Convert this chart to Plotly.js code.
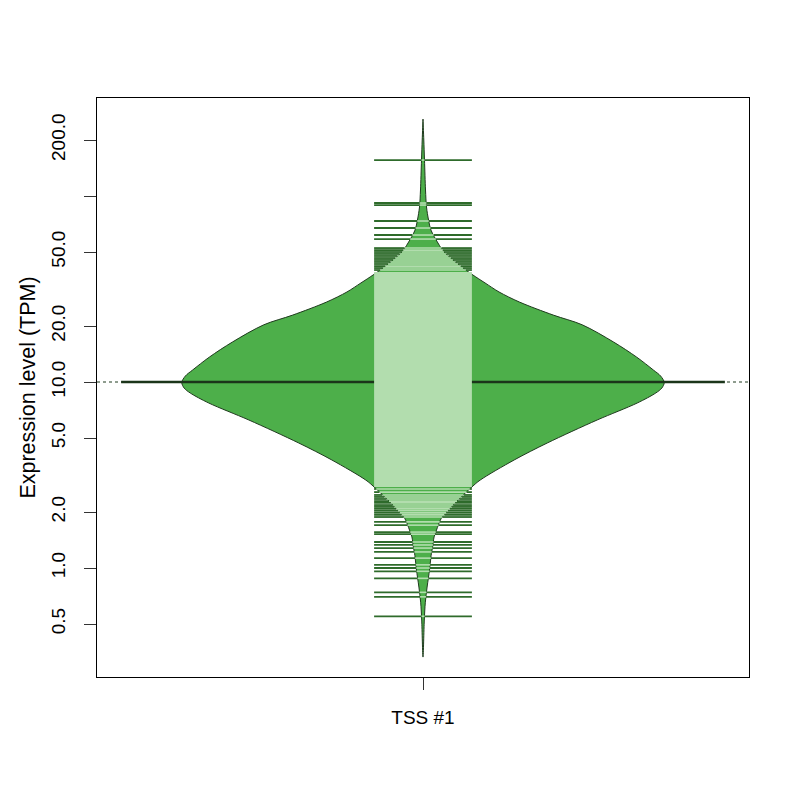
<!DOCTYPE html>
<html>
<head>
<meta charset="utf-8">
<script src="https://cdn.plot.ly/plotly-3.0.1.min.js"></script>
<style>
  body { margin: 0; background: #fff; }
  #chart { width: 800px; height: 800px; }
</style>
</head>
<body>
<div id="chart"></div>
<script>
// one group only
let category = "TSS #1";
let yTickVals = [0.5, 1, 2, 5, 10, 20, 50, 100, 200];
let yTickText = ["0.5", "1.0", "2.0", "5.0", "10.0", "20.0", "50.0", "", "200.0"];

// bean outline: expression level and relative density
let beanLevels = [0.332, 0.525, 0.65, 0.79, 0.975, 1.06, 1.20, 1.30, 1.47, 1.60, 1.81, 1.88,
    2.24, 2.73, 2.97, 3.81, 4.70, 6.25, 7.71, 8.73, 9.28, 9.94, 10.77, 11.6, 13.6, 16.4, 20.3, 22.9,
    26.9, 30.5, 34.1, 37.6, 41.0, 45.3, 50.0, 55.9, 65.6, 74.3, 87.3, 107.7, 156.1, 200, 259.4];
let beanDensity = [0, 0.0054, 0.0095, 0.017, 0.027, 0.030, 0.035, 0.040, 0.046, 0.056, 0.072, 0.080,
    0.133, 0.203, 0.237, 0.378, 0.515, 0.722, 0.888, 0.965, 0.99, 1.0, 0.985, 0.955, 0.886, 0.790, 0.660, 0.540,
    0.400, 0.315, 0.257, 0.207, 0.166, 0.124, 0.087, 0.062, 0.033, 0.023, 0.0145, 0.0104, 0.0062, 0.0033, 0];

// single observations above and below the dense block
let upperValues = [156.1, 91.7, 89.4, 73.4, 67.3, 61.7, 58.7, 52.5, 51.2, 50.0, 48.8, 47.6,
    46.4, 45.3, 44.2, 43.1, 42.0, 41.0, 40.0];
let lowerValues = [2.66, 2.56, 2.47, 2.41, 2.35, 2.29, 2.24, 2.18, 2.13, 2.08, 2.03, 1.98,
    1.93, 1.88, 1.77, 1.70, 1.56, 1.52, 1.38, 1.33, 1.28, 1.22, 1.13, 1.04, 1.00, 0.96,
    0.88, 0.74, 0.70, 0.55];
// observations so dense they merge into one block
let denseRange = [2.73, 39.0];
let medianValue = 10.0;

let beanHalf = 0.37;
let lineHalf = 0.075;
let medianHalf = 0.463;
let col_bean = "#4DAF4A", col_light = "#B2DDAE", col_dark = "#2E6B2B", col_border = "#1F3A1E";

function densityAt(v) {
    let lv = Math.log10(v);
    for (let i = 0; i < beanLevels.length - 1; i++) {
        let a = Math.log10(beanLevels[i]), b = Math.log10(beanLevels[i + 1]);
        if (lv >= a && lv <= b) {
            return beanDensity[i] + (beanDensity[i + 1] - beanDensity[i]) * (lv - a) / (b - a);
        }
    }
    return 0;
}

// bean polygon
let bx = [], by = [];
for (let i = 0; i < beanLevels.length; i++) {
    bx.push(1 - beanHalf * beanDensity[i]);
    by.push(beanLevels[i]);
}
for (let i = beanLevels.length - 1; i >= 0; i--) {
    bx.push(1 + beanHalf * beanDensity[i]);
    by.push(beanLevels[i]);
}

// bean lines, light inside the bean and dark outside
let darkX = [], darkY = [], lightX = [], lightY = [];
let allValues = upperValues.concat(lowerValues);
for (let i = 0; i < allValues.length; i++) {
    let v = allValues[i];
    let w = beanHalf * densityAt(v);
    if (w >= lineHalf) {
        lightX.push(1 - lineHalf, 1 + lineHalf, null);
        lightY.push(v, v, null);
    } else {
        darkX.push(1 - lineHalf, 1 - w, null, 1 + w, 1 + lineHalf, null);
        darkY.push(v, v, null, v, v, null);
        lightX.push(1 - w, 1 + w, null);
        lightY.push(v, v, null);
    }
}

let data = [
    {
        x: [0.5, 1.5], y: [medianValue, medianValue], mode: "lines",
        line: { color: col_border, width: 1, dash: "dot" }, hoverinfo: "skip"
    },
    {
        x: bx, y: by, mode: "lines", fill: "toself", fillcolor: col_bean,
        line: { color: col_border, width: 1, shape: "spline", smoothing: 0.9 }, hoverinfo: "skip"
    },
    {
        x: [1 - medianHalf, 1 + medianHalf], y: [medianValue, medianValue], mode: "lines",
        line: { color: "#1B351A", width: 2.5 }, hoverinfo: "skip"
    },
    {
        x: darkX, y: darkY, mode: "lines", connectgaps: false,
        line: { color: col_dark, width: 1.8 }, hoverinfo: "skip"
    },
    {
        x: lightX, y: lightY, mode: "lines", connectgaps: false,
        line: { color: col_light, width: 1.6 }, hoverinfo: "skip"
    },
    {
        x: [1 - lineHalf, 1 + lineHalf, 1 + lineHalf, 1 - lineHalf, 1 - lineHalf],
        y: [denseRange[0], denseRange[0], denseRange[1], denseRange[1], denseRange[0]],
        mode: "lines", fill: "toself", fillcolor: col_light,
        line: { width: 0 }, hoverinfo: "skip"
    }
];

let layout = {
    width: 800, height: 800,
    margin: { l: 97, r: 51, t: 98, b: 123 },
    paper_bgcolor: "#fff", plot_bgcolor: "#fff",
    showlegend: false,
    font: { family: "Liberation Sans, Arial, sans-serif", size: 19, color: "#000" },
    xaxis: {
        range: [0.5, 1.5], tickvals: [1], ticktext: [category],
        tickfont: { size: 19 },
        ticks: "outside", ticklen: 12, tickcolor: "#333", ticklabelstandoff: 11,
        showgrid: false, zeroline: false, showline: true, mirror: true,
        linecolor: "#000", linewidth: 1
    },
    yaxis: {
        type: "log", range: [-0.586, 2.527],
        tickvals: yTickVals, ticktext: yTickText, tickangle: -90,
        tickfont: { size: 19 },
        ticks: "outside", ticklen: 12, tickcolor: "#333", ticklabelstandoff: 11,
        showgrid: false, zeroline: false, showline: true, mirror: true,
        linecolor: "#000", linewidth: 1,
        title: { text: "Expression level (TPM)", font: { size: 21.5 }, standoff: 6 }
    }
};

Plotly.newPlot("chart", data, layout, { staticPlot: true });
</script>
</body>
</html>
